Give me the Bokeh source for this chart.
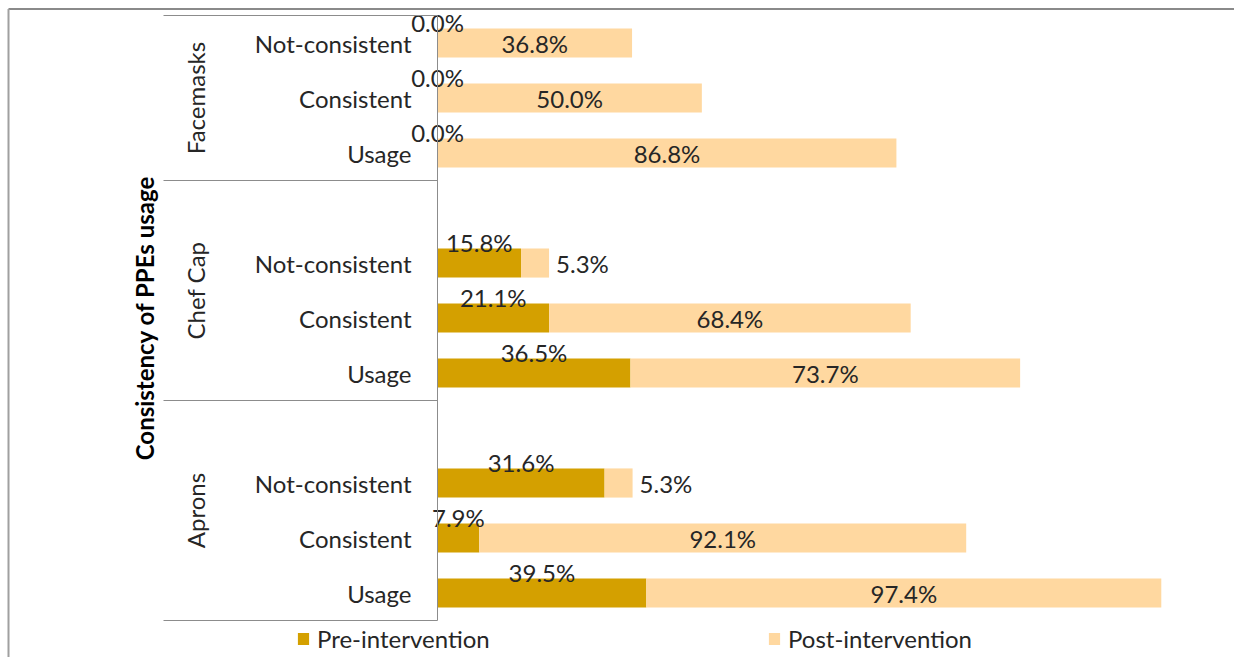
import numpy as np
from bokeh.plotting import figure
from bokeh.models import Range1d, ColumnDataSource, Legend, LegendItem
from bokeh.core.properties import value
from bokeh.embed import file_html
from bokeh.resources import INLINE

# ---------------- data ----------------
groups = ["Facemasks", "Chef Cap", "Aprons"]
subgroups = ["Not-consistent", "Consistent", "Usage"]
pre_facemasks = [0.0, 0.0, 0.0]
pre_chefcap = [15.8, 21.1, 36.5]
pre_aprons = [31.6, 7.9, 39.5]
post_facemasks = [36.8, 50.0, 86.8]
post_chefcap = [5.3, 68.4, 73.7]
post_aprons = [5.3, 92.1, 97.4]
series_names = ["Pre-intervention", "Post-intervention"]
axis_title = "Consistency of PPEs usage"

pre_by_group = [pre_facemasks, pre_chefcap, pre_aprons]
post_by_group = [post_facemasks, post_chefcap, post_aprons]

# ---------------- style / layout ----------------
W, H = 1234, 657
PX_PER_PCT = 5.287       # horizontal scale (px per percent)
AXIS_PX = 437            # px of the category axis line
SLOT_PX = 55             # px per category slot
TOP_PX = 15              # px of top of category area
PRE_COLOR = "#D4A000"
POST_COLOR = "#FFD8A0"
TEXT_COLOR = "#262626"
LINE_COLOR = "#8C8C8C"
FONT = "Lato"
FS = "24px"


def px_x(px):
    return (px - AXIS_PX) / PX_PER_PCT


def px_y(px):
    return (px - TOP_PX) / SLOT_PX


x_start, x_end = px_x(0), px_x(W)
y_top, y_bottom = px_y(0), px_y(H)

# slot positions (blank slot before every group except the first)
ys, sub_lbl, pre, post = [], [], [], []
bounds = [0]
slot = 0
for gi, g in enumerate(groups):
    if gi > 0:
        slot += 1
    for si, s in enumerate(subgroups):
        ys.append(slot + 0.5)
        sub_lbl.append(s)
        pre.append(pre_by_group[gi][si])
        post.append(post_by_group[gi][si])
        slot += 1
    bounds.append(slot)
group_centers = [(bounds[i] + bounds[i + 1]) / 2 for i in range(len(groups))]

pre = np.array(pre)
post = np.array(post)
ys = np.array(ys)

src = ColumnDataSource(dict(y=ys, pre=pre, post=post, total=pre + post,
                            pre_mid=pre / 2,
                            pre_lbl=[f"{v:.1f}%" for v in pre]))

p = figure(width=W, height=H, x_range=Range1d(x_start, x_end),
           y_range=Range1d(y_bottom, y_top),
           output_backend="svg", toolbar_location=None,
           x_axis_location=None, y_axis_location=None,
           min_border=0, outline_line_color=None)
p.grid.visible = False
p.background_fill_color = "white"

BAR_H = 0.53
r_pre = p.hbar(y="y", left=0, right="pre", height=BAR_H, source=src,
               fill_color=PRE_COLOR, line_color=None)
r_post = p.hbar(y="y", left="pre", right="total", height=BAR_H, source=src,
                fill_color=POST_COLOR, line_color=None)

txt = dict(text_font=value(FONT), text_font_size=FS, text_color=TEXT_COLOR)

# pre labels: above the pre segment
p.text(x="pre_mid", y="y", text="pre_lbl", source=src, y_offset=-21,
       text_align="center", text_baseline="middle", **txt)

# post labels: centered inside, or just outside when the segment is small
inside = post >= 10
src_in = ColumnDataSource(dict(x=(pre + post / 2)[inside], y=ys[inside],
                               t=[f"{v:.1f}%" for v in post[inside]]))
src_out = ColumnDataSource(dict(x=(pre + post)[~inside], y=ys[~inside],
                                t=[f"{v:.1f}%" for v in post[~inside]]))
p.text(x="x", y="y", text="t", source=src_in, text_align="center",
       text_baseline="middle", **txt)
p.text(x="x", y="y", text="t", source=src_out, x_offset=7, text_align="left",
       text_baseline="middle", **txt)

# category (subgroup) labels
p.text(x=px_x(411), y=ys, text=sub_lbl, text_align="right", text_baseline="middle", **txt)

# group labels (rotated)
p.text(x=px_x(195), y=group_centers, text=groups, angle=np.pi / 2,
       text_align="center", text_baseline="middle", **txt)

# axis title
p.text(x=px_x(144), y=[(bounds[0] + bounds[-1]) / 2], text=[axis_title], angle=np.pi / 2,
       text_align="center", text_baseline="middle", text_font=value(FONT),
       text_font_size=FS, text_font_style="bold", text_color="black")

# axis line and group separators
p.segment(x0=0, y0=bounds[0], x1=0, y1=bounds[-1], line_color=LINE_COLOR, line_width=1)
p.segment(x0=px_x(163), y0=bounds, x1=0, y1=bounds, line_color=LINE_COLOR, line_width=1)

# outer chart border (only top and left edges are visible)
p.segment(x0=px_x(8), y0=px_y(8.5), x1=px_x(W + 5), y1=px_y(8.5),
          line_color="#8A8A8A", line_width=2)
p.segment(x0=px_x(8), y0=px_y(8.5), x1=px_x(8), y1=px_y(H + 5),
          line_color="#A0A0A0", line_width=2)

# legends
leg_common = dict(orientation="horizontal", padding=0, margin=0, spacing=0,
                  glyph_width=14, glyph_height=15, label_standoff=7,
                  label_text_font=FONT, label_text_font_size="24px",
                  label_text_color=TEXT_COLOR, border_line_color=None,
                  background_fill_alpha=0)
leg1 = Legend(items=[LegendItem(label=series_names[0], renderers=[r_pre])],
              location=(296, 4), **leg_common)
leg2 = Legend(items=[LegendItem(label=series_names[1], renderers=[r_post])],
              location=(767, 4), **leg_common)
p.add_layout(leg1)
p.add_layout(leg2)

open("out.html", "w").write(file_html(p, INLINE))
